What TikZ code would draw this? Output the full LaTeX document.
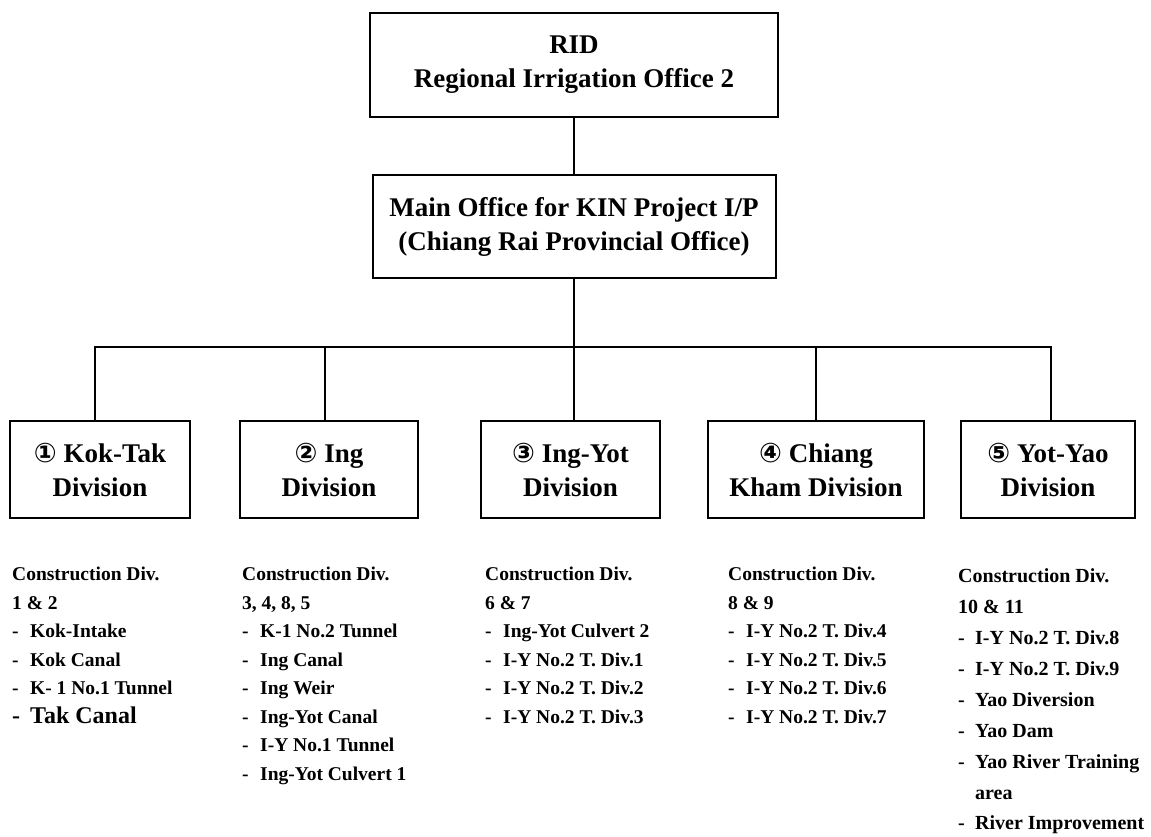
\documentclass[tikz,border=0pt]{standalone}
\usepackage{fontspec}
\setmainfont{Liberation Serif}
\newfontfamily\circfont{DejaVu Sans}
\newcommand\bxfont{\fontsize{27}{34}\selectfont\bfseries}
\newcommand\lsfont{\fontsize{19.5}{24}\selectfont\bfseries}
\newcommand\lbfont{\fontsize{20}{26}\selectfont\bfseries}
\newcommand\dsh{\makebox[18pt][l]{-}}
\newcommand\dshb{\makebox[17pt][l]{-}}
\begin{document}
\begin{tikzpicture}[x=1pt,y=-1pt,
  box/.style={draw, line width=2pt, align=center, font=\bxfont, inner sep=0pt, minimum height=97pt},
  conn/.style={line width=2.4pt},
  item/.style={anchor=base west, font=\lsfont, inner sep=0pt},
  itemb/.style={anchor=base west, font=\lbfont, inner sep=0pt}]
\useasboundingbox (0,0) rectangle (1151,837);
\fill[white] (0,0) rectangle (1151,837);
% top boxes
\node[box, minimum width=408pt, minimum height=104pt] (rid) at (574,65) {RID\\Regional Irrigation Office 2};
\node[box, minimum width=403pt, minimum height=103pt] (main) at (574,226.5) {Main Office for KIN Project I/P\\(Chiang Rai Provincial Office)};
% division boxes
\node[box, minimum width=180pt] (d1) at (100,469.5) {{\circfont ①} Kok-Tak\\Division};
\node[box, minimum width=178pt] (d2) at (329,469.5) {{\circfont ②} Ing\\Division};
\node[box, minimum width=179pt] (d3) at (570.5,469.5) {{\circfont ③} Ing-Yot\\Division};
\node[box, minimum width=216pt] (d4) at (816,469.5) {{\circfont ④} Chiang\\Kham Division};
\node[box, minimum width=174pt] (d5) at (1048,469.5) {{\circfont ⑤} Yot-Yao\\Division};
% connectors
\coordinate (bl) at (95,347);
\coordinate (br) at (1051,347);
\coordinate (t2) at (325,347);
\coordinate (t4) at (816,347);
\draw[conn] (rid.south) -- (main.north);
\draw[conn] (main.south) -- (main.south |- d3.north);
\draw[conn] (bl |- d1.north) -- (bl) -- (br) -- (br |- d5.north);
\draw[conn] (t2) -- (t2 |- d2.north);
\draw[conn] (t4) -- (t4 |- d4.north);
% column 1
\node[item] (c1a) at (12,580) {Construction Div.};
\node[item] (c1b) at (12,609) {1 \& 2};
\node[item] (c1c) at (12,637.5) {\dsh Kok-Intake};
\node[item] (c1d) at (12,666) {\dsh Kok Canal};
\node[item] (c1e) at (12,694.5) {\dsh K- 1 No.1 Tunnel};
\node[item, font=\fontsize{24}{28}\selectfont\bfseries] (c1f) at (12,723) {\dsh Tak Canal};
% column 2
\node[item] (c2a) at (242,580) {Construction Div.};
\node[item] (c2b) at (242,609) {3, 4, 8, 5};
\node[item] (c2c) at (242,637.5) {\dsh K-1 No.2 Tunnel};
\node[item] (c2d) at (242,666) {\dsh Ing Canal};
\node[item] (c2e) at (242,694.5) {\dsh Ing Weir};
\node[item] (c2f) at (242,723) {\dsh Ing-Yot Canal};
\node[item] (c2g) at (242,751.5) {\dsh I-Y No.1 Tunnel};
\node[item] (c2h) at (242,780) {\dsh Ing-Yot Culvert 1};
% column 3
\node[item] (c3a) at (485,580) {Construction Div.};
\node[item] (c3b) at (485,609) {6 \& 7};
\node[item] (c3c) at (485,637.5) {\dsh Ing-Yot Culvert 2};
\node[item] (c3d) at (485,666) {\dsh I-Y No.2 T. Div.1};
\node[item] (c3e) at (485,694.5) {\dsh I-Y No.2 T. Div.2};
\node[item] (c3f) at (485,723) {\dsh I-Y No.2 T. Div.3};
% column 4
\node[item] (c4a) at (728,580) {Construction Div.};
\node[item] (c4b) at (728,609) {8 \& 9};
\node[item] (c4c) at (728,637.5) {\dsh I-Y No.2 T. Div.4};
\node[item] (c4d) at (728,666) {\dsh I-Y No.2 T. Div.5};
\node[item] (c4e) at (728,694.5) {\dsh I-Y No.2 T. Div.6};
\node[item] (c4f) at (728,723) {\dsh I-Y No.2 T. Div.7};
% column 5
\node[itemb] (c5a) at (958,582) {Construction Div.};
\node[itemb] (c5b) at (958,613) {10 \& 11};
\node[itemb] (c5c) at (958,644) {\dshb I-Y No.2 T. Div.8};
\node[itemb] (c5d) at (958,675) {\dshb I-Y No.2 T. Div.9};
\node[itemb] (c5e) at (958,706) {\dshb Yao Diversion};
\node[itemb] (c5f) at (958,737) {\dshb Yao Dam};
\node[itemb] (c5g) at (958,768) {\dshb Yao River Training};
\node[itemb] (c5h) at (975,799) {area};
\node[itemb] (c5i) at (958,829) {\dshb River Improvement};
\end{tikzpicture}
\end{document}
